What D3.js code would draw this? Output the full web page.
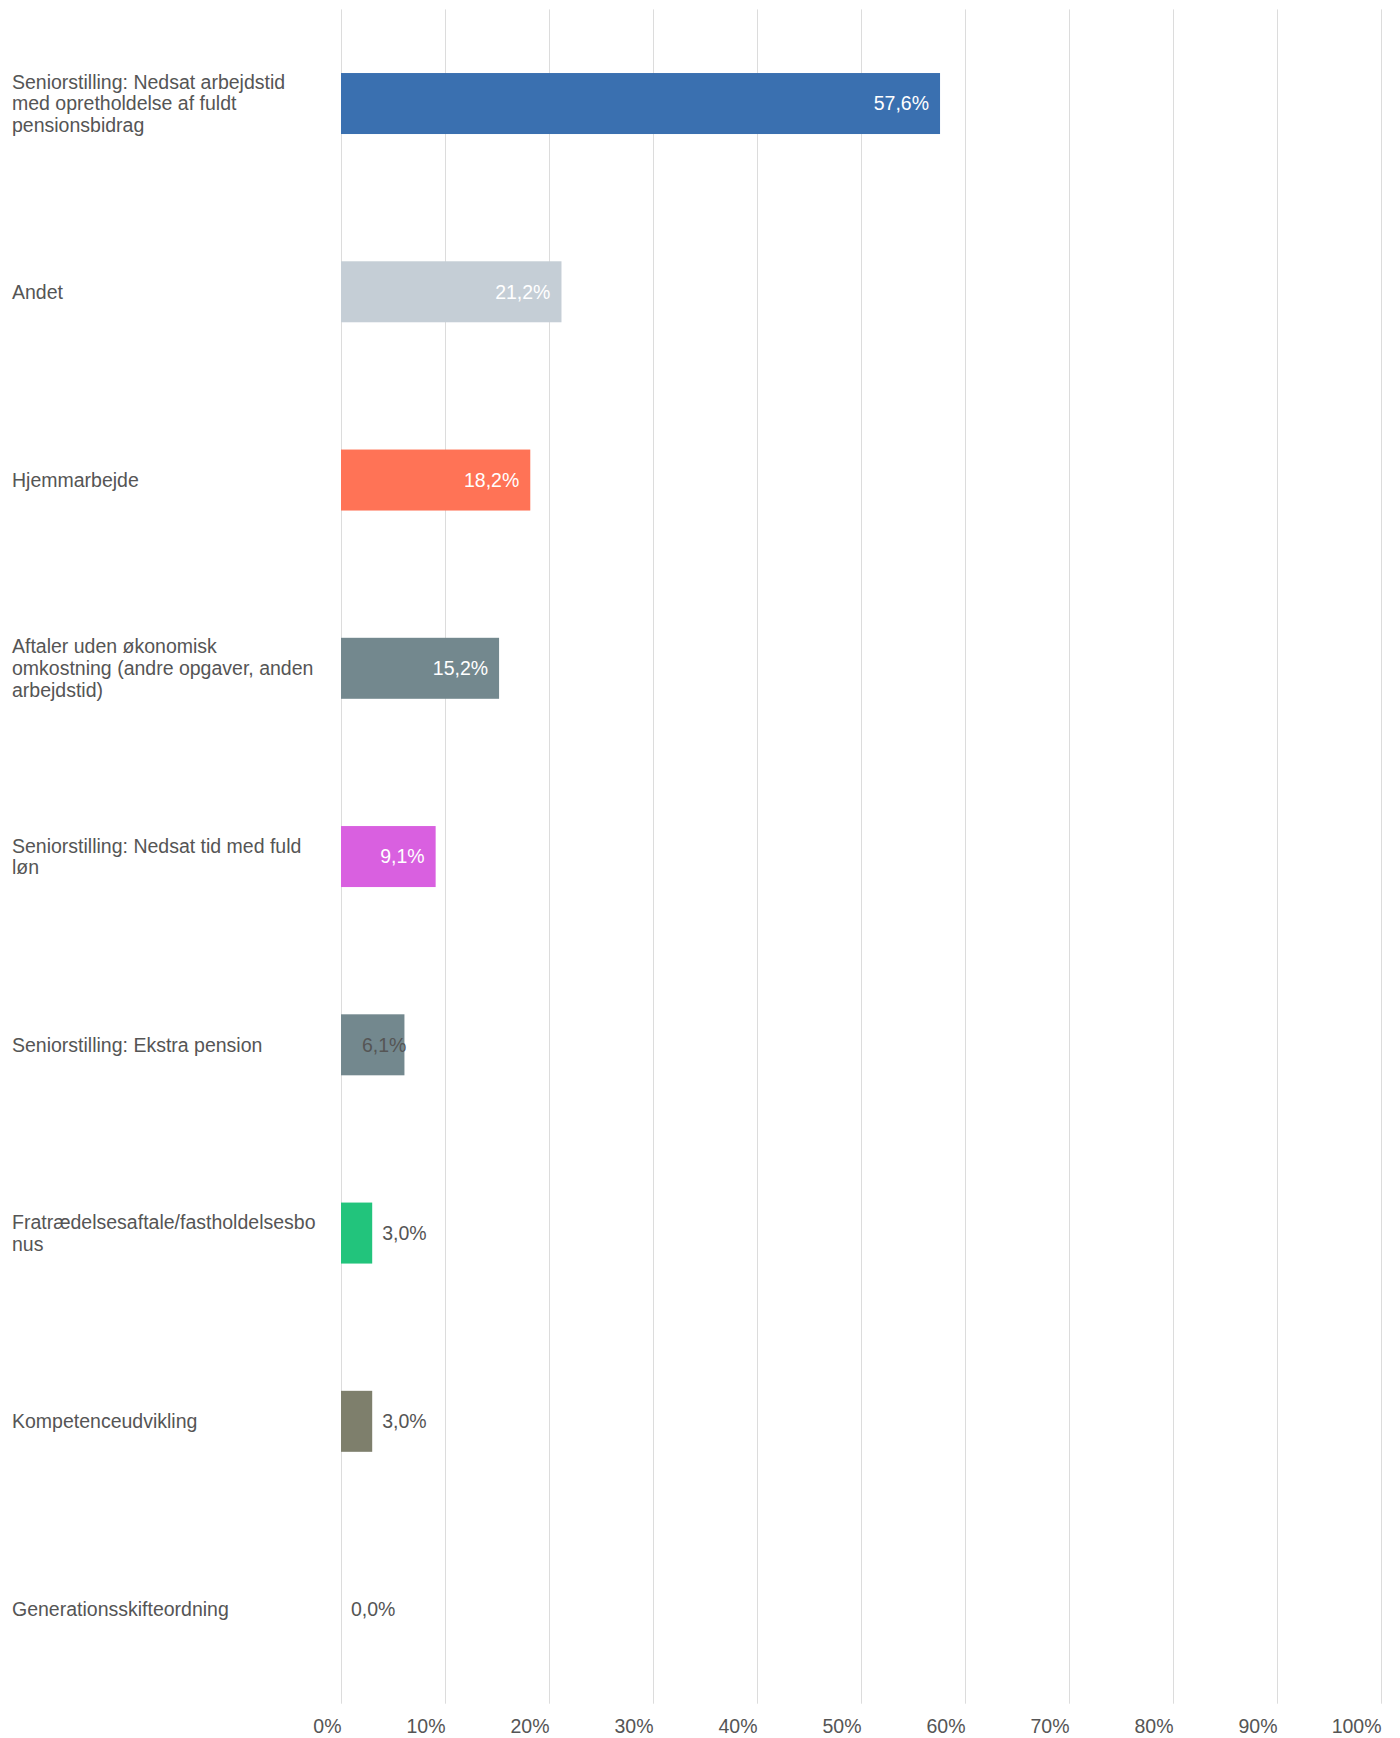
<!DOCTYPE html>
<html>
<head>
<meta charset="utf-8">
<script src="https://cdn.jsdelivr.net/npm/d3@7/dist/d3.min.js"></script>
<style>
  html, body { margin: 0; padding: 0; background: #fff; }
  svg { display: block; font-family: "Liberation Sans", Arial, sans-serif; }
</style>
</head>
<body>
<svg id="chart" width="1400" height="1738"></svg>
<script>
// Answer options (line breaks as shown in the axis labels)
const categories = [
  "Seniorstilling: Nedsat arbejdstid\nmed opretholdelse af fuldt\npensionsbidrag",
  "Andet",
  "Hjemmarbejde",
  "Aftaler uden økonomisk\nomkostning (andre opgaver, anden\narbejdstid)",
  "Seniorstilling: Nedsat tid med fuld\nløn",
  "Seniorstilling: Ekstra pension",
  "Fratrædelsesaftale/fastholdelsesbo\nnus",
  "Kompetenceudvikling",
  "Generationsskifteordning"
];
// Share of respondents, percent
const values = [57.6, 21.2, 18.2, 15.2, 9.1, 6.1, 3.0, 3.0, 0.0];
const colors = ["#3a70b0", "#c5ced6", "#ff7356", "#73888e", "#d960e0", "#73888e", "#22c47c", "#7e7f6c", "#999999"];
const tickValues = [0, 10, 20, 30, 40, 50, 60, 70, 80, 90, 100];
const tickLabels = ["0%", "10%", "20%", "30%", "40%", "50%", "60%", "70%", "80%", "90%", "100%"];

const svg = d3.select("#chart");
const fontSize = 19.5;
const textColor = "#555555";

const x = d3.scaleLinear().domain([0, 100]).range([341, 1381]);
const y = d3.scaleBand()
  .domain(categories)
  .range([9.4, 1703.7])
  .paddingInner(0.676)
  .paddingOuter(0.338);

// vertical grid
svg.append("g").selectAll("line")
  .data(tickValues)
  .join("line")
  .attr("x1", d => Math.round(x(d)) + 0.5)
  .attr("x2", d => Math.round(x(d)) + 0.5)
  .attr("y1", y.range()[0])
  .attr("y2", y.range()[1])
  .attr("stroke", "#dcdcdc")
  .attr("stroke-width", 1);

// x axis labels, right-aligned to their gridline
const xAxis = d3.axisBottom(x)
  .tickValues(tickValues)
  .tickFormat((d, i) => tickLabels[i])
  .tickSize(0);
const gx = svg.append("g")
  .attr("transform", "translate(0,1733)")
  .call(xAxis);
gx.select(".domain").remove();
gx.selectAll("text")
  .attr("y", 0)
  .attr("dy", 0)
  .attr("x", 0)
  .attr("text-anchor", "end")
  .attr("fill", textColor)
  .style("font-size", fontSize + "px")
  .style("font-family", '"Liberation Sans", Arial, sans-serif');

// category labels
const lineH = 21.7;
const gl = svg.append("g");
categories.forEach(c => {
  const lines = c.split("\n");
  const cy = y(c) + y.bandwidth() / 2;
  const t = gl.append("text")
    .attr("x", 12)
    .attr("fill", textColor)
    .style("font-size", fontSize + "px");
  lines.forEach((ln, i) => {
    t.append("tspan")
      .attr("x", 12)
      .attr("y", cy + (i - (lines.length - 1) / 2) * lineH)
      .attr("dy", "0.35em")
      .text(ln);
  });
});

// bars
const data = categories.map((c, i) => ({ c, v: values[i], color: colors[i] }));
svg.append("g").selectAll("rect")
  .data(data.filter(d => d.v > 0))
  .join("rect")
  .attr("x", x(0))
  .attr("y", d => y(d.c))
  .attr("width", d => x(d.v) - x(0))
  .attr("height", y.bandwidth())
  .attr("fill", d => d.color);

// value labels
const fmt = v => v.toFixed(1).replace(".", ",") + "%";
const gv = svg.append("g");
data.forEach(d => {
  const cy = y(d.c) + y.bandwidth() / 2;
  const t = gv.append("text")
    .attr("y", cy)
    .attr("dy", "0.35em")
    .style("font-size", fontSize + "px")
    .text(fmt(d.v));
  const w = t.node().getComputedTextLength();
  const barW = x(d.v) - x(0);
  if (w + 22 <= barW) {
    t.attr("x", x(d.v) - 11).attr("text-anchor", "end").attr("fill", "#ffffff");
  } else if (w < barW) {
    t.attr("x", x(d.v) + 2).attr("text-anchor", "end").attr("fill", textColor);
  } else {
    t.attr("x", x(d.v) + 10).attr("text-anchor", "start").attr("fill", textColor);
  }
});
</script>
</body>
</html>
